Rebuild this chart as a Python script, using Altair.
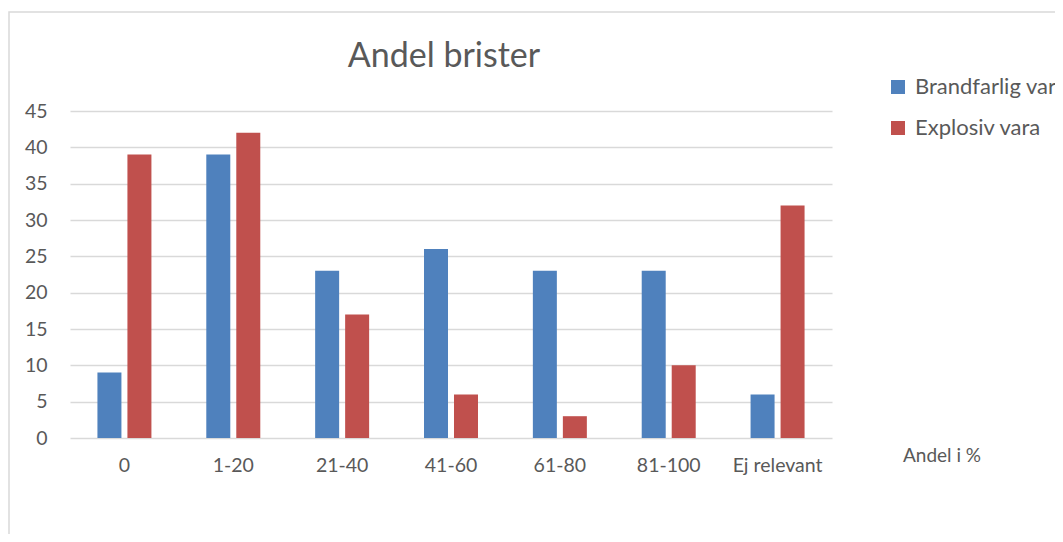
import altair as alt
import pandas as pd

categories = ["0", "1-20", "21-40", "41-60", "61-80", "81-100", "Ej relevant"]
brandfarlig = [9, 39, 23, 26, 23, 23, 6]
explosiv = [39, 42, 17, 6, 3, 10, 32]
series_names = ["Brandfarlig vara", "Explosiv vara"]
colors = ["#4f81bd", "#c0504d"]

rows = []
for c, b, e in zip(categories, brandfarlig, explosiv):
    rows.append({"cat": c, "series": series_names[0], "value": b})
    rows.append({"cat": c, "series": series_names[1], "value": e})
df = pd.DataFrame(rows)

FONT = "Lato"
GRAY = "#595959"

bars = alt.Chart(df).mark_bar().encode(
    x=alt.X("cat:N", sort=categories, title=None,
            scale=alt.Scale(paddingInner=0.504, paddingOuter=0.252),
            axis=alt.Axis(labelAngle=0, labelFontSize=19.5, labelColor=GRAY, labelFont=FONT,
                          ticks=False, domain=False, labelPadding=18)),
    xOffset=alt.XOffset("series:N", sort=series_names,
                        scale=alt.Scale(paddingInner=0.2, paddingOuter=0)),
    y=alt.Y("value:Q", title=None,
            scale=alt.Scale(domain=[0, 45], nice=False),
            axis=alt.Axis(values=list(range(0, 50, 5)), labelFontSize=19.5, labelColor=GRAY,
                          labelFont=FONT, ticks=False, domain=False, labelPadding=23,
                          gridColor="#d9d9d9", gridWidth=1.5)),
    color=alt.Color("series:N", sort=series_names,
                    scale=alt.Scale(domain=series_names, range=colors),
                    legend=alt.Legend(title=None, orient="none", legendX=817, legendY=-35,
                                      symbolType="square", symbolSize=196, symbolStrokeWidth=0,
                                      labelFontSize=22, labelColor=GRAY, labelFont=FONT,
                                      rowPadding=19, labelOffset=6, labelLimit=400)),
)

title_df = pd.DataFrame({"t": ["Andel brister"]})
title = alt.Chart(title_df).mark_text(fontSize=34, color=GRAY, font=FONT, baseline="middle",
                                      align="center").encode(
    text="t:N", x=alt.value(374), y=alt.value(-54))

note_df = pd.DataFrame({"t": ["Andel i %"]})
note = alt.Chart(note_df).mark_text(fontSize=19, color=GRAY, font=FONT, baseline="middle",
                                    align="left").encode(
    text="t:N", x=alt.value(833), y=alt.value(345))

border = alt.Chart(title_df).mark_rect(fill=None, stroke="#d9d9d9", strokeWidth=1.5,
                                       clip=False).encode(
    x=alt.value(-61), y=alt.value(-99), x2=alt.value(1010), y2=alt.value(500))

chart = alt.layer(border, bars, title, note).properties(
    width=762, height=327,
    autosize=alt.AutoSizeParams(type="none"),
    padding={"left": 62, "top": 103, "right": 223, "bottom": 96},
).configure(font=FONT, view=alt.ViewConfig(stroke=None))

chart.save("out.html", embed_options={"renderer": "svg", "actions": False})
